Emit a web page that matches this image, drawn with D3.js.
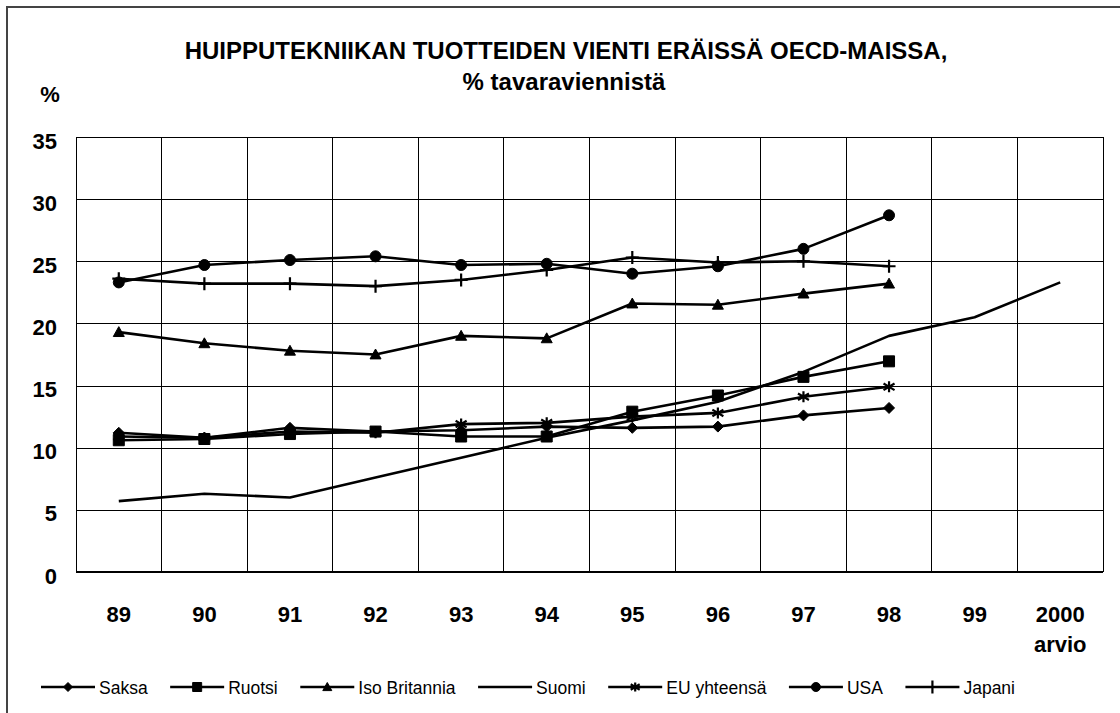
<html>
<head>
<meta charset="utf-8">
<script src="https://d3js.org/d3.v7.min.js"></script>
<style>
    body { margin: 0; background: #fff; }
    svg { display: block; font-family: 'Liberation Sans', Arial, sans-serif; }
</style>
</head>
<body>
<svg id="chart" width="1120" height="713"></svg>
<script>
    // values (% of goods exports)
    const years = ["89", "90", "91", "92", "93", "94", "95", "96", "97", "98", "99", "2000"];
    const yTicks = [0, 5, 10, 15, 20, 25, 30, 35];

    const saksa        = [11.2, 10.8, 11.6, 11.3, 11.4, 11.7, 11.6, 11.7, 12.6, 13.2];
    const ruotsi       = [10.6, 10.7, 11.1, 11.3, 10.9, 10.9, 12.9, 14.2, 15.7, 16.95];
    const isoBritannia = [19.3, 18.4, 17.8, 17.5, 19.0, 18.8, 21.6, 21.5, 22.4, 23.2];
    const suomi        = [5.7, 6.3, 6.0, 7.6, 9.2, 10.8, 12.2, 13.7, 16.1, 19.0, 20.5, 23.3];
    const euYhteensa   = [10.9, 10.8, 11.3, 11.2, 11.9, 12.0, 12.5, 12.8, 14.1, 14.9];
    const usa          = [23.3, 24.7, 25.1, 25.4, 24.7, 24.8, 24.0, 24.6, 26.0, 28.7];
    const japani       = [23.6, 23.2, 23.2, 23.0, 23.5, 24.3, 25.3, 24.9, 25.0, 24.6];

    const seriesNames = ["Saksa", "Ruotsi", "Iso Britannia", "Suomi", "EU yhteensä", "USA", "Japani"];
    const seriesValues = [saksa, ruotsi, isoBritannia, suomi, euYhteensa, usa, japani];
    const seriesMarkers = ["diamond", "square", "triangle", "none", "asterisk", "circle", "plus"];

    const series = seriesNames.map((n, i) => ({name: n, values: seriesValues[i], marker: seriesMarkers[i]}));

    let svg = d3.select("svg#chart");
    let padding = {top: 137, bottom: 141, left: 76, right: 17};
    let chartWidth = 1120 - padding.left - padding.right;
    let chartHeight = 713 - padding.top - padding.bottom;

    // outer frame (only left and top edges are inside the picture)
    svg.append("rect")
        .attr("x", 7).attr("y", 7)
        .attr("width", 1140).attr("height", 740)
        .attr("fill", "none").attr("stroke", "#444").attr("stroke-width", 2);

    let xScale = d3.scaleBand()
        .domain(years)
        .range([0, chartWidth]);

    let yScale = d3.scaleLinear()
        .domain([0, 35])
        .range([chartHeight, 0]);

    let plot = svg.append("g")
        .attr("transform", "translate(" + padding.left + "," + padding.top + ")");

    // horizontal grid + y labels
    const yAxis = d3.axisLeft(yScale)
        .tickValues(yTicks)
        .tickSize(-chartWidth)
        .tickPadding(19);

    plot.append("g")
        .attr("class", "y axis")
        .call(yAxis)
        .call(g => g.select(".domain").remove())
        .call(g => g.selectAll(".tick line").attr("stroke", "#000").attr("shape-rendering", "crispEdges"))
        .call(g => g.selectAll(".tick text")
            .attr("dy", "0.5em")
            .attr("fill", "#000")
            .style("font-size", "22px")
            .style("font-weight", "bold"));

    // vertical grid at band edges
    let edges = years.map(d => xScale(d)).concat([chartWidth]);
    plot.append("g").selectAll("line")
        .data(edges)
        .enter().append("line")
        .attr("x1", d => d).attr("x2", d => d)
        .attr("y1", 0).attr("y2", chartHeight)
        .attr("stroke", "#000")
        .attr("shape-rendering", "crispEdges");

    // heavier zero line
    plot.append("line")
        .attr("x1", 0).attr("x2", chartWidth)
        .attr("y1", yScale(0)).attr("y2", yScale(0))
        .attr("stroke", "#000").attr("stroke-width", 2);

    // x labels
    const xAxis = d3.axisBottom(xScale).tickSize(0).tickPadding(0);
    plot.append("g")
        .attr("class", "x axis")
        .attr("transform", "translate(0," + chartHeight + ")")
        .call(xAxis)
        .call(g => g.select(".domain").remove())
        .call(g => g.selectAll(".tick text")
            .attr("y", 50).attr("dy", null)
            .attr("fill", "#000")
            .style("font-size", "22px")
            .style("font-weight", "bold"));

    plot.select(".x.axis").selectAll(".tick")
        .filter(d => d === "2000")
        .append("text")
        .attr("y", 80)
        .attr("text-anchor", "middle")
        .attr("fill", "#000")
        .style("font-size", "22px")
        .style("font-weight", "bold")
        .text("arvio");

    function markerPath(type, s) {
        let h = s / 2;
        if (type === "diamond") return `M0,${-h}L${h},0L0,${h}L${-h},0Z`;
        if (type === "square") return `M${-h},${-h}H${h}V${h}H${-h}Z`;
        if (type === "triangle") return `M0,${-h}L${h},${h * 0.8}L${-h},${h * 0.8}Z`;
        if (type === "circle") return `M${h},0A${h},${h} 0 1,1 ${-h},0A${h},${h} 0 1,1 ${h},0Z`;
        if (type === "asterisk") return `M0,${-h}V${h}M${-h},${-h * 0.6}L${h},${h * 0.6}M${-h},${h * 0.6}L${h},${-h * 0.6}`;
        if (type === "plus") return `M0,${-h}V${h}M${-h},0H${h}`;
        return "";
    }

    function drawMarker(sel, type, s) {
        let filled = type !== "asterisk" && type !== "plus";
        sel.attr("d", markerPath(type, s))
            .attr("fill", filled ? "#000" : "none")
            .attr("stroke", "#000")
            .attr("stroke-width", filled ? 1 : 2.2);
    }

    let line = d3.line()
        .x((d, i) => xScale(years[i]) + xScale.bandwidth() / 2)
        .y(d => yScale(d));

    series.forEach(s => {
        let g = plot.append("g");
        g.append("path")
            .attr("d", line(s.values))
            .attr("fill", "none")
            .attr("stroke", "#000")
            .attr("stroke-width", 2.6)
            .attr("stroke-linejoin", "round");
        if (s.marker !== "none") {
            g.selectAll("path.mk")
                .data(s.values)
                .enter().append("path")
                .attr("class", "mk")
                .attr("transform", (d, i) => "translate(" + (xScale(years[i]) + xScale.bandwidth() / 2) + "," + yScale(d) + ")")
                .each(function () { drawMarker(d3.select(this), s.marker, s.marker === "plus" ? 13 : 11); });
        }
    });

    // titles
    svg.append("text")
        .attr("x", 566).attr("y", 59)
        .attr("text-anchor", "middle")
        .style("font-size", "24px").style("font-weight", "bold")
        .text("HUIPPUTEKNIIKAN TUOTTEIDEN VIENTI ERÄISSÄ OECD-MAISSA,");
    svg.append("text")
        .attr("x", 564).attr("y", 90)
        .attr("text-anchor", "middle")
        .style("font-size", "24px").style("font-weight", "bold")
        .text("% tavaraviennistä");
    svg.append("text")
        .attr("x", 50).attr("y", 102)
        .attr("text-anchor", "middle")
        .style("font-size", "22px").style("font-weight", "bold")
        .text("%");

    // legend: spread entries evenly between x=41 and x=1015
    let legend = svg.append("g").attr("transform", "translate(0,687)");
    let items = series.map(s => {
        let item = legend.append("g");
        item.append("line")
            .attr("x1", 0).attr("x2", 54)
            .attr("stroke", "#000").attr("stroke-width", 2.6);
        if (s.marker !== "none") {
            item.append("path")
                .attr("transform", "translate(27,0)")
                .call(sel => drawMarker(sel, s.marker, s.marker === "plus" ? 13 : 9));
        }
        let t = item.append("text")
            .attr("x", 58).attr("y", 7)
            .style("font-size", "17.5px")
            .text(s.name);
        return {g: item, w: 58 + t.node().getComputedTextLength()};
    });
    let totalW = d3.sum(items, d => d.w);
    let gap = (1015 - 41 - totalW) / (items.length - 1);
    let lx = 41;
    items.forEach(d => {
        d.g.attr("transform", "translate(" + lx + ",0)");
        lx += d.w + gap;
    });
</script>
</body>
</html>
